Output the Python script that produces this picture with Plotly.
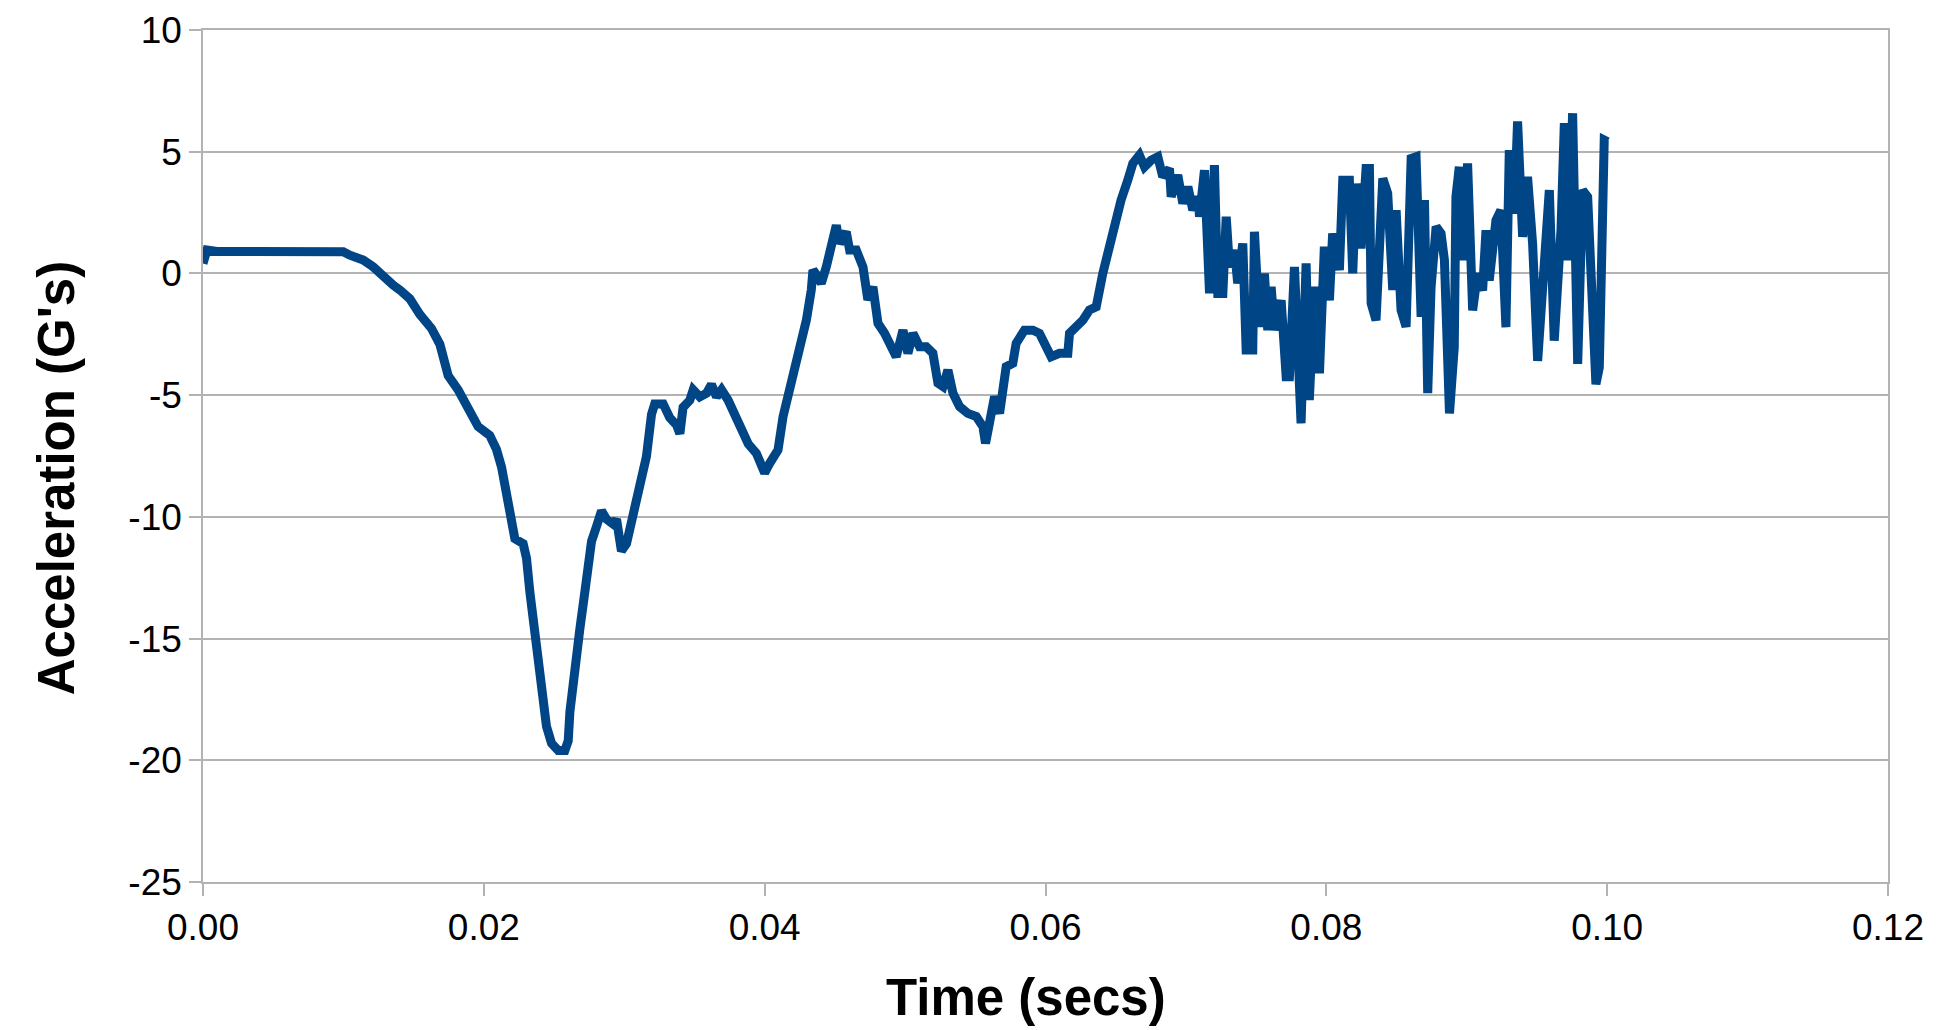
import plotly.graph_objects as go

# Time (s) and acceleration (G's)
time_s = [
    0.00000, 0.00028, 0.00100, 0.00200, 0.00300, 0.00400, 0.00500, 0.00600, 0.00700, 0.00800,
    0.00900, 0.00999, 0.01046, 0.01141, 0.01212, 0.01283, 0.01354,
    0.01402, 0.01473, 0.01544, 0.01627, 0.01687, 0.01722, 0.01746, 0.01817, 0.01888, 0.01959,
    0.02042, 0.02090, 0.02126, 0.02157, 0.02185, 0.02221, 0.02280, 0.02304, 0.02328, 0.02363,
    0.02399, 0.02434, 0.02446, 0.02482, 0.02530, 0.02577, 0.02601, 0.02613, 0.02636, 0.02660,
    0.02684, 0.02719, 0.02755, 0.02767, 0.02802, 0.02838, 0.02874, 0.02921, 0.02945, 0.02980,
    0.03016, 0.03051, 0.03087, 0.03134, 0.03158, 0.03194, 0.03217, 0.03277, 0.03324, 0.03372,
    0.03396, 0.03419, 0.03467, 0.03491, 0.03538, 0.03586, 0.03621, 0.03657, 0.03693, 0.03740,
    0.03788, 0.03835, 0.03883,
    0.03941, 0.04000, 0.04036, 0.04095, 0.04131, 0.04166, 0.04214, 0.04261, 0.04297, 0.04332,
    0.04344, 0.04380, 0.04403, 0.04439, 0.04475, 0.04510, 0.04534, 0.04581, 0.04605, 0.04652,
    0.04700, 0.04735, 0.04771, 0.04807, 0.04854, 0.04890, 0.04937, 0.04985, 0.05020, 0.05056,
    0.05103, 0.05151, 0.05198, 0.05234, 0.05270, 0.05305, 0.05341, 0.05388, 0.05447, 0.05507,
    0.05554, 0.05573, 0.05601, 0.05637, 0.05673, 0.05696, 0.05720, 0.05767, 0.05791, 0.05850,
    0.05910, 0.05957, 0.06005, 0.06040, 0.06100, 0.06159, 0.06171, 0.06218, 0.06266, 0.06313,
    0.06361,
    0.06408, 0.06443, 0.06491, 0.06538, 0.06586, 0.06622, 0.06669, 0.06705, 0.06752, 0.06800,
    0.06835, 0.06883, 0.06895, 0.06942, 0.06978, 0.07014, 0.07049, 0.07085, 0.07097, 0.07132,
    0.07168, 0.07203, 0.07227, 0.07263, 0.07287, 0.07310, 0.07346, 0.07369, 0.07405, 0.07429,
    0.07476, 0.07488, 0.07524, 0.07559, 0.07583, 0.07607, 0.07631, 0.07678, 0.07714, 0.07737,
    0.07773, 0.07820, 0.07856, 0.07879, 0.07915, 0.07951, 0.07986, 0.08022, 0.08045, 0.08093,
    0.08117, 0.08164, 0.08188, 0.08212, 0.08247, 0.08283, 0.08307, 0.08319, 0.08354, 0.08402,
    0.08437, 0.08473, 0.08497, 0.08532, 0.08568, 0.08604, 0.08639, 0.08675, 0.08699, 0.08722,
    0.08746, 0.08782, 0.08817, 0.08841, 0.08877,
    0.08911, 0.08923, 0.08947, 0.08971, 0.09006, 0.09042, 0.09077, 0.09113, 0.09137, 0.09160,
    0.09208, 0.09243, 0.09279, 0.09303, 0.09338, 0.09362, 0.09398, 0.09433, 0.09469, 0.09505,
    0.09552, 0.09588, 0.09623, 0.09671, 0.09695, 0.09718, 0.09754, 0.09790, 0.09825, 0.09861,
    0.09920, 0.09944, 0.09979, 0.10003,
]

accel_g = [
    0.41, 0.96, 0.90, 0.90, 0.90, 0.90, 0.90, 0.90, 0.90, 0.90,
    0.91, 0.89, 0.75, 0.55, 0.27, -0.14, -0.48,
    -0.68, -1.04, -1.68, -2.26, -2.91, -3.63, -4.20, -4.78, -5.50, -6.29,
    -6.65, -7.23, -7.95, -8.96, -9.96, -10.90, -11.10, -11.70, -13.10, -14.60,
    -16.00, -17.50, -18.60, -19.30, -19.60, -19.60, -19.20, -18.00, -16.60, -15.60,
    -14.60, -13.10, -11.70, -11.00, -10.40, -9.75, -10.10, -10.30, -10.10, -11.40,
    -11.10, -10.25, -9.39, -8.24, -7.52, -5.79, -5.36, -5.36, -5.93, -6.22,
    -6.58, -5.50, -5.21, -4.78, -5.07, -4.92, -4.56, -5.07, -4.78, -5.21,
    -5.79, -6.51, -7.00,
    -7.39, -8.20, -7.80, -7.25, -5.88, -5.06, -3.83, -2.60, -1.92, -0.68,
    0.14, -0.14, -0.41, 0.27, 1.23, 1.98, 1.23, 1.71, 0.96, 0.96,
    0.27, -1.09, -0.55, -2.05, -2.46, -2.87, -3.42, -2.33, -3.28, -2.46,
    -3.01, -3.01, -3.28, -4.51, -4.65, -3.97, -4.92, -5.47, -5.75, -5.88,
    -6.29, -6.98, -6.29, -5.06, -5.75, -4.79, -3.83, -3.69, -2.87, -2.33,
    -2.33, -2.46, -3.15, -3.42, -3.28, -3.28, -2.46, -2.19, -1.92, -1.50,
    -1.37,
    0.00, 0.82, 2.05, 3.01, 3.83, 4.52, 4.86, 4.38, 4.65, 4.79,
    3.97, 4.31, 3.15, 4.04, 2.87, 3.56, 2.60, 3.15, 2.33, 4.24,
    -0.82, 4.45, -0.82, -0.82, 2.33, 0.27, 0.96, -0.41, 1.23, -3.15,
    -3.15, 1.71, -2.19, 0.00, -2.33, -0.55, -2.33, -1.10, -4.24, -4.24,
    0.27, -6.16, 0.41, -5.20, -0.55, -4.10, 1.10, -1.10, 1.64, 0.14,
    3.83, 3.83, 0.00, 3.69, 1.03, 4.31, 4.31, -1.23, -1.92, 3.90,
    3.29, -0.68, 2.60, -1.50, -2.19, 4.72, 4.79, -1.78, 3.01, -4.92,
    -0.55, 1.92, 1.64, 0.55, -5.75,
    -3.04, 3.15, 4.38, 0.54, 4.52, -1.52, 0.00, -0.70, 1.77, -0.29,
    2.18, 2.60, -2.21, 5.07, 2.46, 6.24, 1.50, 3.97, 1.22, -3.59,
    0.00, 3.42, -2.76, 1.77, 6.17, 0.54, 6.58, -3.72, 3.42, 3.15,
    -4.55, -3.86, 5.48, 5.41,
]

x_ticks = [0.00, 0.02, 0.04, 0.06, 0.08, 0.10, 0.12]
y_ticks = [-25, -20, -15, -10, -5, 0, 5, 10]

x_title = "Time (secs)"
y_title = "Acceleration (G's)"

FONT = "Liberation Sans, Arial, sans-serif"
GRID = "#b3b3b3"

fig = go.Figure()
fig.add_trace(go.Scatter(
    x=time_s, y=accel_g, mode="lines",
    line=dict(color="#004586", width=9),
    showlegend=False, hoverinfo="skip",
))

fig.update_layout(
    width=1944, height=1030,
    margin=dict(l=195, r=64, t=22, b=156),
    paper_bgcolor="white", plot_bgcolor="white",
    font=dict(family=FONT, size=37, color="black"),
    showlegend=False,
    annotations=[
        dict(text=f"<b>{x_title}</b>", xref="paper", yref="paper",
             x=0.4884, y=-0.136, xanchor="center", yanchor="middle",
             showarrow=False, font=dict(family=FONT, size=51, color="black")),
        dict(text=f"<b>{y_title}</b>", xref="paper", yref="paper",
             x=-0.0872, y=0.474, xanchor="center", yanchor="middle",
             textangle=-90, showarrow=False,
             font=dict(family=FONT, size=51, color="black")),
    ],
)

fig.update_xaxes(
    range=[0, 0.12], tickvals=x_ticks,
    ticktext=[f"{v:.2f}" for v in x_ticks],
    showgrid=False, zeroline=False, automargin=False,
    showline=True, linecolor=GRID, linewidth=1.5, mirror=True,
    ticks="outside", ticklen=12, tickcolor=GRID, tickwidth=1.5,
    tickfont=dict(family=FONT, size=37, color="black"),
)
fig.update_yaxes(
    range=[-25, 10], tickvals=y_ticks,
    ticktext=[str(v) for v in y_ticks],
    showgrid=True, gridcolor=GRID, gridwidth=1.5, zeroline=False, automargin=False,
    showline=True, linecolor=GRID, linewidth=1.5, mirror=True,
    ticks="outside", ticklen=12, tickcolor=GRID, tickwidth=1.5,
    tickfont=dict(family=FONT, size=37, color="black"),
)

fig.write_html("out.html")
